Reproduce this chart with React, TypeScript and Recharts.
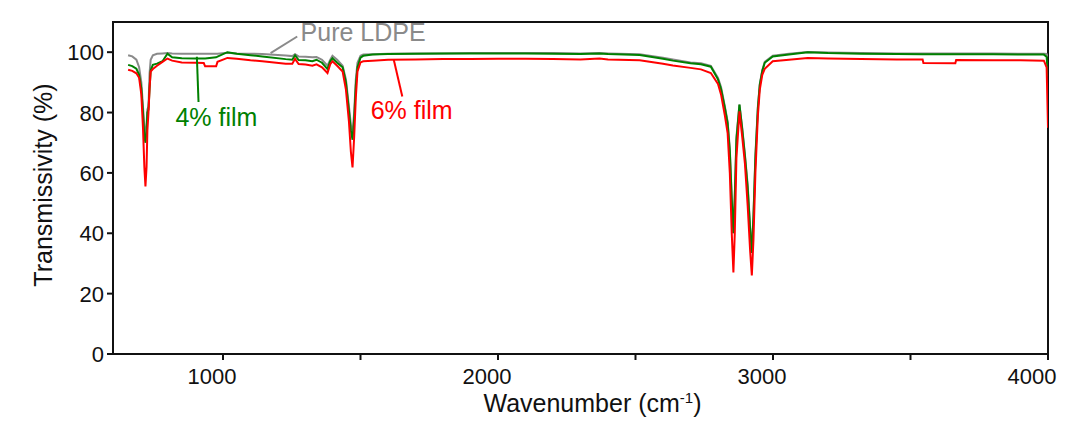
import React from 'react';
import { LineChart, Line, XAxis, YAxis, ReferenceArea, ReferenceLine, ReferenceDot, Label } from 'recharts';

const wavenumbers = [655, 670, 685, 695, 703, 709, 714, 718, 722, 725, 729, 733, 737, 745, 760, 780, 798, 815, 850, 900, 930, 935, 975, 980, 1016, 1050, 1100, 1143, 1228, 1252, 1262, 1275, 1300, 1325, 1340, 1360, 1380, 1390, 1398, 1415, 1435, 1447, 1458, 1465, 1471, 1477, 1483, 1489, 1500, 1510, 1544, 1600, 1700, 1800, 1900, 2000, 2100, 2200, 2300, 2369, 2400, 2515, 2600, 2636, 2700, 2738, 2774, 2800, 2811, 2825, 2835, 2843, 2850, 2856, 2861, 2867, 2878, 2888, 2898, 2908, 2917, 2923, 2929, 2936, 2945, 2952, 2961, 2970, 2999, 3058, 3126, 3200, 3320, 3450, 3544, 3547, 3663, 3666, 3800, 3900, 3985, 3995, 4000];

const pureLDPE = [99.0, 98.6, 97.5, 95, 90, 82, 75, 72, 76, 81, 82, 93, 97.5, 99, 99.5, 99.6, 99.7, 99.6, 99.5, 99.5, 99.5, 99.5, 99.5, 99.5, 99.8, 99.6, 99.5, 99.4, 98.9, 98.7, 99.3, 98.6, 98.5, 98.3, 98.4, 97.5, 95.5, 97.5, 98.8, 97.5, 95.5, 91, 82, 76, 73, 80, 91, 96.5, 98.8, 99.2, 99.3, 99.5, 99.6, 99.6, 99.7, 99.7, 99.7, 99.7, 99.6, 99.7, 99.6, 99.3, 98.2, 97.6, 96.6, 96.3, 95.5, 91.5, 88.5, 82, 77, 68, 52, 40, 52, 72, 82.6, 75, 66, 56, 42, 34, 46, 66, 82, 89.5, 94, 96.8, 98.8, 99.5, 100.1, 99.9, 99.7, 99.6, 99.6, 99.6, 99.6, 99.6, 99.6, 99.5, 99.5, 99.4, 98.5];

const film4 = [95.8, 95.4, 94.5, 92.5, 88, 80, 72, 70, 74, 80, 81, 88, 94, 95.8, 96.2, 97, 99.5, 98.3, 98, 97.9, 97.9, 97.9, 98.3, 98.5, 100, 99.5, 99, 98.6, 97.7, 97.5, 99, 97.4, 97.3, 97, 97.5, 96.5, 94.4, 97, 98, 96.5, 95, 90, 80.5, 74, 71, 78, 89, 95, 98.2, 98.8, 99.2, 99.4, 99.5, 99.6, 99.6, 99.6, 99.6, 99.5, 99.4, 99.6, 99.4, 99.1, 97.8, 97.2, 96.3, 96.0, 95.2, 91, 87.8, 81.5, 76.5, 67, 51, 40, 52, 71, 82.6, 74.5, 65.5, 55, 41, 33.5, 45.5, 65, 81.5, 89.2, 93.8, 96.5, 98.6, 99.2, 100, 99.7, 99.5, 99.4, 99.3, 99.3, 99.3, 99.3, 99.3, 99.2, 99.2, 98.5, 92];

const film6 = [94.2, 93.8, 93.0, 91.5, 86, 75, 62, 55.5, 62, 74, 80, 88, 93.6, 94.4, 95.5, 96.8, 97.9, 97.2, 96.6, 96.5, 96.4, 95.3, 95.3, 96.8, 98.1, 97.8, 97.3, 97, 96.2, 96.2, 97.8, 96.1, 95.9, 95.5, 96, 95, 93.1, 96, 97, 95.5, 93.6, 87.6, 77, 67, 61.8, 72, 85, 93.6, 96.6, 97, 97.2, 97.5, 97.6, 97.7, 97.7, 97.8, 97.8, 97.7, 97.6, 97.9, 97.6, 97.3, 96.2, 95.6, 94.8, 94.3, 93.1, 89.5, 86, 79, 73.2, 60, 40, 27, 40, 65, 80.4, 72, 63, 49, 34, 26, 38, 60, 79, 87.6, 92.5, 94.5, 97, 97.5, 98.1, 97.9, 97.7, 97.6, 97.6, 96.4, 96.3, 97.4, 97.3, 97.3, 97.2, 95, 75];

const xTicks = [1000, 1500, 2000, 2500, 3000, 3500, 4000];
const xLabeled = [1000, 2000, 3000, 4000];
const yTicks = [0, 20, 40, 60, 80, 100];

const data = wavenumbers.map((w, i) => ({ w, pure: pureLDPE[i], f4: film4[i], f6: film6[i] }));

const FONT = '"Liberation Sans", Arial, sans-serif';
const GRAY = '#8a8a8a';
const GREEN = '#008000';
const RED = '#ff0000';

const XTick = (props: any) => {
  const { x, y, payload } = props;
  if (!xLabeled.includes(payload.value)) return null;
  return (
    <text x={x - 11} y={y + 22} textAnchor="middle" fontSize={22} fontFamily={FONT} fill="#111">
      {payload.value}
    </text>
  );
};

const YTick = (props: any) => {
  const { x, y, payload } = props;
  return (
    <text x={x} y={y + 8} textAnchor="end" fontSize={22} fontFamily={FONT} fill="#111">
      {payload.value}
    </text>
  );
};

const YTitle = (props: any) => {
  const vb = props.viewBox;
  const cx = vb.x + 35;
  const cy = vb.y + vb.height / 2 - 3;
  return (
    <text x={cx} y={cy} transform={`rotate(-90 ${cx} ${cy})`} textAnchor="middle" dominantBaseline="central" fontSize={25} fontFamily={FONT} fill="#111">
      Transmissivity (%)
    </text>
  );
};

const XTitle = (props: any) => {
  const vb = props.viewBox;
  const cx = vb.x + vb.width / 2 + 12;
  const cy = vb.y + 58;
  return (
    <text x={cx} y={cy} textAnchor="middle" fontSize={25} fontFamily={FONT} fill="#111">
      Wavenumber (cm<tspan dy={-9} fontSize={15}>-1</tspan><tspan dy={9}>)</tspan>
    </text>
  );
};

export default function App() {
  return (
    <div style={{ width: 1051, height: 413, background: '#fff' }}>
      <LineChart width={1051} height={413} data={data} margin={{ top: 14, right: 11, bottom: 0, left: 0 }}>
        <XAxis
          dataKey="w"
          type="number"
          domain={[600, 4000]}
          ticks={xTicks}
          allowDataOverflow
          height={67}
          tickSize={6}
          tick={<XTick />}
          axisLine={{ stroke: '#111', strokeWidth: 2 }}
          tickLine={{ stroke: '#111', strokeWidth: 2 }}
        >
          <Label content={<XTitle />} />
        </XAxis>
        <YAxis
          type="number"
          domain={[0, 110]}
          ticks={yTicks}
          allowDataOverflow
          width={105}
          tickSize={6}
          tickMargin={3}
          tick={<YTick />}
          axisLine={{ stroke: '#111', strokeWidth: 2 }}
          tickLine={{ stroke: '#111', strokeWidth: 2 }}
        >
          <Label content={<YTitle />} />
        </YAxis>
        <ReferenceArea x1={600} x2={4000} y1={0} y2={110} fill="none" stroke="#111" strokeWidth={2} ifOverflow="visible" />
        <Line type="linear" dataKey="pure" stroke={GRAY} strokeWidth={2} dot={false} isAnimationActive={false} />
        <Line type="linear" dataKey="f4" stroke={GREEN} strokeWidth={2} dot={false} isAnimationActive={false} />
        <Line type="linear" dataKey="f6" stroke={RED} strokeWidth={2} dot={false} isAnimationActive={false} />
        <ReferenceLine segment={[{ x: 1173, y: 99.7 }, { x: 1270, y: 105.2 }]} stroke={GRAY} strokeWidth={2} ifOverflow="visible" />
        <ReferenceLine segment={[{ x: 905, y: 98.5 }, { x: 911, y: 83.5 }]} stroke={GREEN} strokeWidth={2} ifOverflow="visible" />
        <ReferenceLine segment={[{ x: 1621, y: 97.5 }, { x: 1652, y: 85.3 }]} stroke={RED} strokeWidth={2} ifOverflow="visible" />
        <ReferenceDot x={1282} y={106.5} r={0} ifOverflow="visible" label={{ value: 'Pure LDPE', position: 'right', offset: 0, fill: GRAY, fontSize: 25, fontFamily: FONT }} />
        <ReferenceDot x={827} y={78.6} r={0} ifOverflow="visible" label={{ value: '4% film', position: 'right', offset: 0, fill: GREEN, fontSize: 25, fontFamily: FONT }} />
        <ReferenceDot x={1537} y={80.9} r={0} ifOverflow="visible" label={{ value: '6% film', position: 'right', offset: 0, fill: RED, fontSize: 25, fontFamily: FONT }} />
      </LineChart>
    </div>
  );
}
